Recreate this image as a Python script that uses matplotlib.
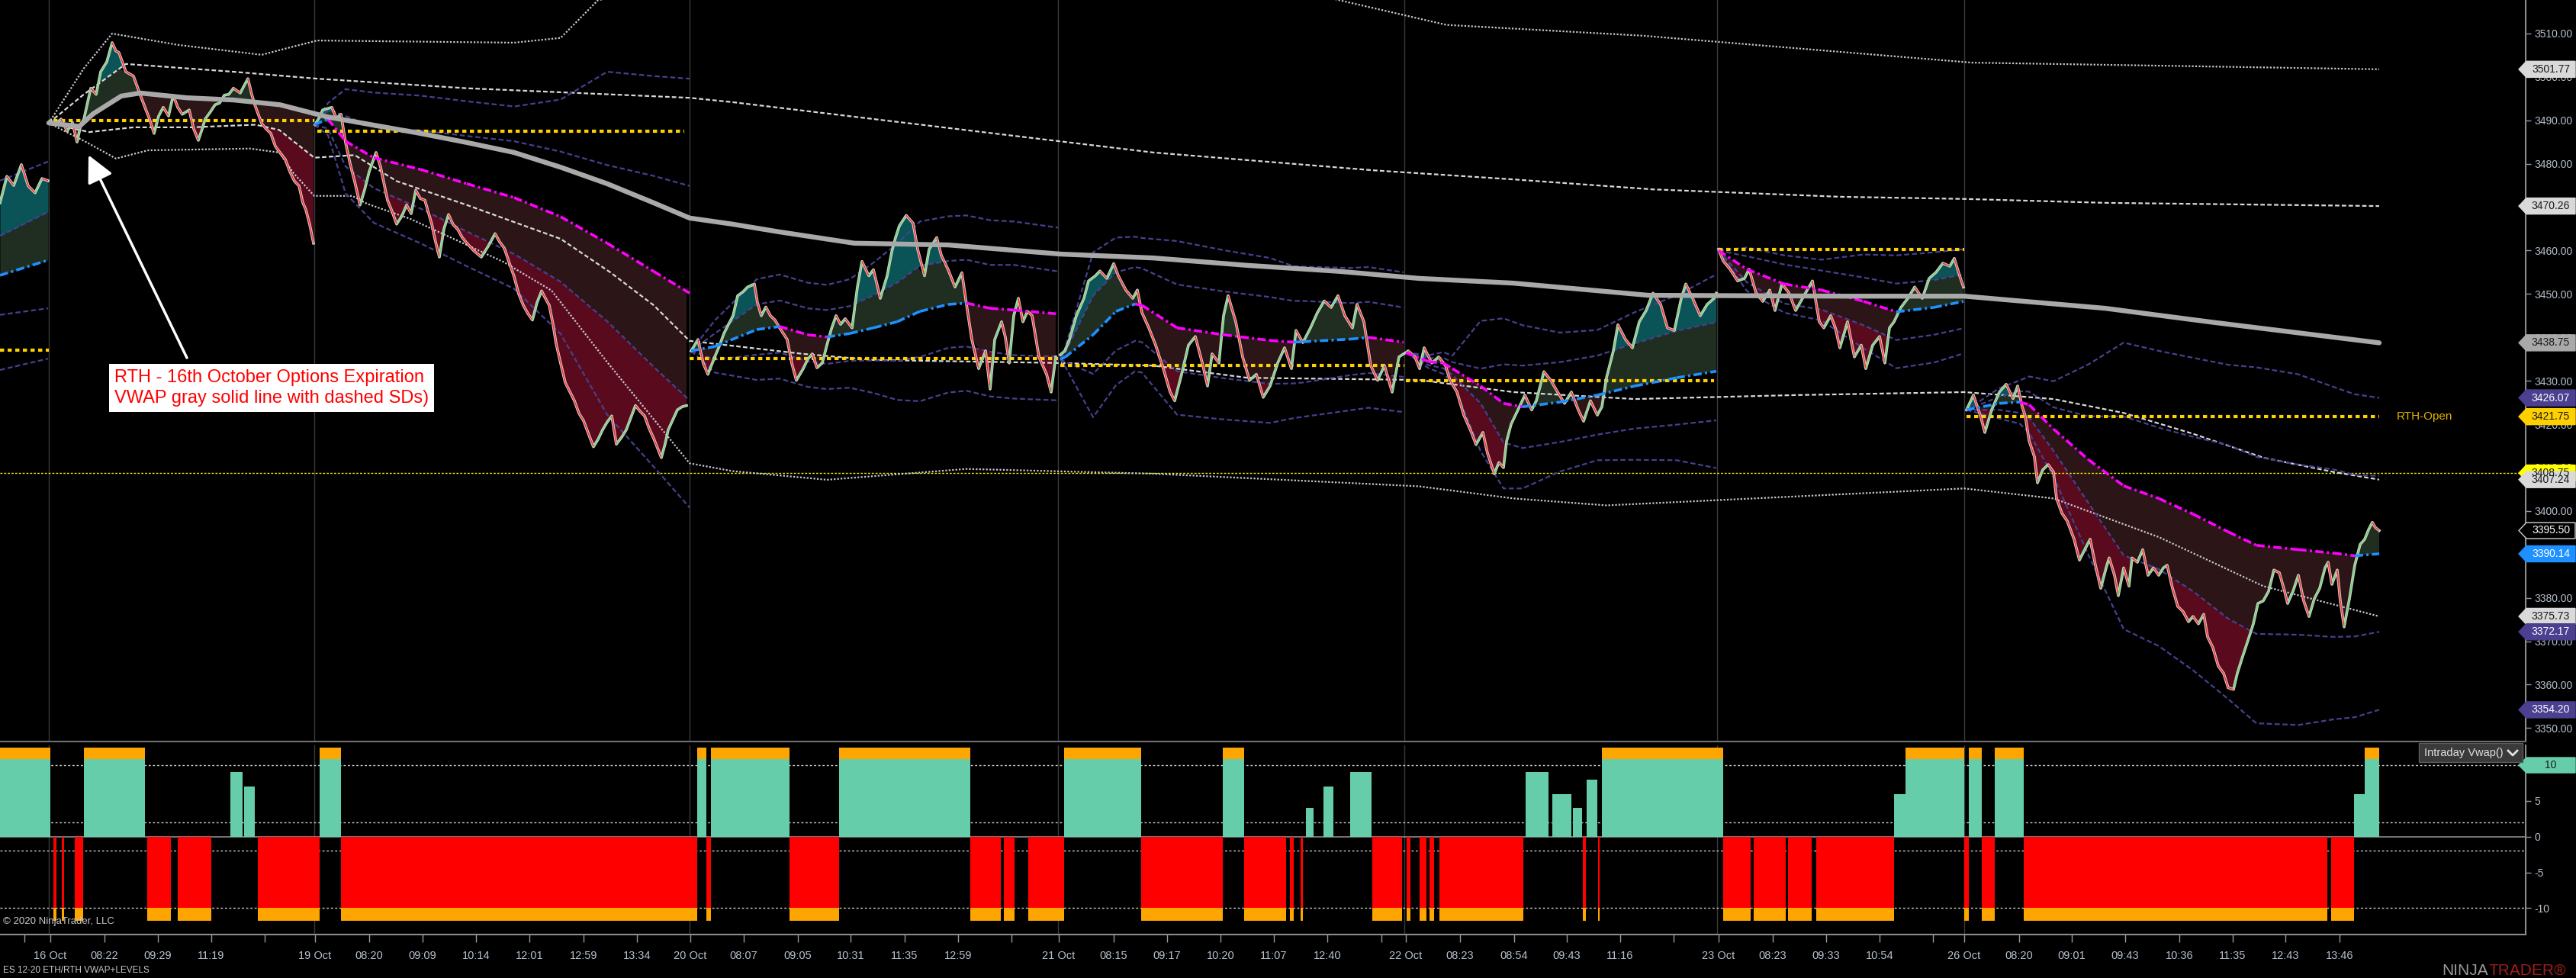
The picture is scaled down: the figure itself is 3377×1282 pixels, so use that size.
#!/usr/bin/env python3
"""ES 12-20 ETH/RTH VWAP + levels chart (NinjaTrader style), redrawn with matplotlib."""

import numpy as np
import matplotlib
matplotlib.use('Agg')
import matplotlib.pyplot as plt
import matplotlib.transforms as mtransforms
from matplotlib.patches import Polygon, Rectangle
from matplotlib.lines import Line2D
from matplotlib.collections import LineCollection

plt.rcParams['font.family'] = ['Liberation Sans Narrow', 'Liberation Sans', 'DejaVu Sans']

# ---------------------------------------------------------------- data
# x = bar position along the time axis, y = price
session_starts = [64, 412, 904, 1387, 1841, 2251, 2575]

xtick_pos = [32, 66, 137, 207, 277, 347, 413, 484, 554, 624, 694, 765, 835, 905, 975, 1046,
             1115, 1186, 1256, 1326, 1388, 1460, 1530, 1600, 1670, 1740, 1811, 1843, 1914,
             1985, 2054, 2124, 2194, 2253, 2324, 2394, 2464, 2534, 2575, 2647, 2716, 2786,
             2857, 2927, 2996, 3067]
xtick_lab = ['', '16 Oct', '08:22', '09:29', '11:19', '', '19 Oct', '08:20', '09:09', '10:14',
             '12:01', '12:59', '13:34', '20 Oct', '08:07', '09:05', '10:31', '11:35', '12:59', '',
             '21 Oct', '08:15', '09:17', '10:20', '11:07', '12:40', '', '22 Oct', '08:23', '08:54',
             '09:43', '11:16', '', '23 Oct', '08:23', '09:33', '10:54', '', '26 Oct', '08:20',
             '09:01', '09:43', '10:36', '11:35', '12:43', '13:46']

price_ticks = [3350, 3360, 3370, 3380, 3390, 3400, 3410, 3420, 3430, 3440, 3450, 3460, 3470,
               3480, 3490, 3500, 3510]

# 16 Oct RTH anchored VWAP (gray) and its SD lines
lvwap_x = [64, 104, 122, 159, 184, 245, 306, 367, 429, 490, 551, 612, 674, 735, 796, 857, 904,
           960, 1022, 1120, 1243, 1390, 1512, 1635, 1757, 1860, 1984, 2161, 2412, 2575, 2760,
           2900, 3119]
lvwap_y = [3489.4, 3488.6, 3491.5, 3495.6, 3496.3, 3495.2, 3494.7, 3493.6, 3490.8, 3488.9,
           3487.0, 3484.9, 3482.6, 3479.2, 3475.4, 3471.0, 3467.5, 3466.1, 3464.3, 3461.7,
           3461.3, 3459.2, 3458.3, 3456.6, 3455.2, 3453.6, 3452.5, 3449.7, 3449.5, 3449.5,
           3446.7, 3443.5, 3438.75]
lup1_x = [64, 110, 165, 306, 416, 612, 904, 960, 1512, 1800, 1984, 2167, 2412, 2575, 2760, 3119]
lup1_y = [3489.4, 3496.0, 3503.0, 3501.2, 3499.6, 3497.4, 3495.2, 3494.2, 3482.6, 3478.5,
          3476.4, 3474.1, 3472.4, 3471.9, 3471.0, 3470.26]
llo1_x = [64, 117, 175, 251, 335, 366, 412, 465, 520, 612, 735, 800, 857, 904, 1053, 1145,
          1390, 1512, 1635, 1860, 1984, 2143, 2351, 2575, 2692, 2784, 2875, 2967, 3059, 3119]
llo1_y = [3489.4, 3487.3, 3488.4, 3488.4, 3489.0, 3487.8, 3481.4, 3482.0, 3476.0, 3470.5,
          3462.7, 3455.0, 3447.4, 3439.2, 3436.2, 3434.8, 3434.1, 3433.5, 3430.7, 3430.2,
          3427.4, 3425.8, 3426.7, 3427.4, 3425.8, 3422.6, 3417.8, 3412.3, 3409.0, 3407.24]
lup2_x = [64, 110, 147, 233, 343, 380, 416, 674, 735, 784, 1000, 1600, 1896, 2154, 2585, 3119]
lup2_y = [3489.4, 3502.0, 3510.0, 3507.4, 3505.1, 3506.8, 3508.4, 3507.9, 3509.0, 3517.7,
          3524.0, 3524.0, 3512.0, 3509.5, 3503.3, 3501.77]
llo2_x = [64, 114, 152, 194, 328, 366, 385, 412, 462, 481, 538, 660, 723, 796, 904, 960, 1084,
          1267, 1512, 1860, 1984, 2106, 2251, 2575, 2692, 2830, 2967, 3119]
llo2_y = [3489.4, 3484.9, 3481.2, 3483.1, 3483.5, 3482.6, 3477.8, 3472.6, 3472.6, 3470.8,
          3467.3, 3457.4, 3450.8, 3434.3, 3411.0, 3409.2, 3407.2, 3409.7, 3408.6, 3405.7,
          3402.9, 3401.3, 3402.5, 3405.2, 3402.9, 3394.0, 3382.7, 3375.73]

level_line = 3408.75

# RTH open levels per session
open_x0 = [0, 70, 416, 904, 1390, 1843, 2253, 2578]
open_x1 = [64, 412, 897, 1387, 1841, 2247, 2575, 3119]
open_lvl = [3437.0, 3490.0, 3487.5, 3435.1, 3433.6, 3430.1, 3460.2, 3421.75]

# session 0 (previous session tail)
s0_x = [0, 9, 18, 28, 37, 46, 55, 63]
s0_p = [3471.0, 3477.1, 3475.0, 3479.8, 3474.9, 3473.3, 3476.6, 3476.1]
s0_bx = [0, 63]
s0_vwap = [3454.3, 3457.8]
s0_sd1 = [9.1, 11.1]
s0_sd2 = [21.8, 22.7]

# 16 Oct (session VWAP = gray anchored VWAP)
s1_x = [65, 72, 80, 88, 95, 101, 106, 110, 119, 126, 132, 140, 147, 152, 156, 165, 175, 184,
        190, 196, 202, 208, 214, 221, 227, 233, 239, 248, 254, 260, 265, 269, 276, 282, 288,
        294, 300, 306, 315, 320, 325, 330, 334, 343, 349, 355, 361, 367, 374, 380, 386, 392,
        397, 401, 406, 411]
s1_p = [3489.8, 3489.0, 3490.3, 3487.5, 3489.5, 3485.0, 3489.0, 3490.3, 3497.4, 3496.0,
        3501.2, 3503.5, 3507.9, 3506.0, 3505.6, 3501.2, 3500.2, 3495.8, 3493.0, 3490.3,
        3487.0, 3491.0, 3493.0, 3491.0, 3495.8, 3493.0, 3491.4, 3492.4, 3488.0, 3485.4,
        3488.0, 3490.3, 3492.0, 3493.6, 3494.0, 3495.8, 3496.0, 3497.4, 3496.3, 3498.0,
        3499.6, 3496.0, 3493.6, 3489.3, 3488.0, 3487.0, 3484.0, 3482.6, 3481.0, 3478.2,
        3476.0, 3474.9, 3471.0, 3469.4, 3466.0, 3461.7]

# 19 Oct
s2_x = [413, 418, 423, 435, 441, 447, 453, 459, 465, 472, 478, 484, 493, 499, 508, 514, 520,
        527, 533, 539, 545, 551, 557, 566, 571, 576, 582, 588, 594, 600, 606, 612, 621, 631,
        640, 649, 655, 661, 668, 674, 680, 686, 692, 698, 704, 710, 715, 720, 725, 729, 735,
        741, 747, 753, 759, 765, 771, 778, 784, 790, 796, 802, 808, 815, 821, 827, 833, 839,
        845, 851, 857, 862, 867, 872, 876, 882, 888, 894, 900]
s2_p = [3489.0, 3490.5, 3492.4, 3493.0, 3490.5, 3491.4, 3484.9, 3480.0, 3475.9, 3470.5,
        3474.0, 3478.2, 3482.6, 3479.2, 3471.6, 3469.0, 3466.1, 3468.0, 3470.5, 3468.5,
        3473.9, 3472.0, 3471.6, 3466.1, 3462.0, 3458.5, 3465.0, 3468.3, 3466.0, 3464.9,
        3463.0, 3461.7, 3460.0, 3458.5, 3461.0, 3463.9, 3462.0, 3460.6, 3457.0, 3454.0,
        3450.0, 3447.4, 3445.5, 3444.0, 3448.0, 3450.7, 3449.0, 3447.4, 3443.0, 3438.6,
        3434.0, 3429.6, 3427.5, 3425.4, 3422.5, 3420.8, 3418.0, 3414.8, 3416.5, 3418.7,
        3420.5, 3421.9, 3415.4, 3417.0, 3418.7, 3421.5, 3424.3, 3423.0, 3421.9, 3419.0,
        3416.7, 3414.5, 3412.3, 3415.5, 3418.7, 3421.0, 3423.3, 3424.0, 3424.3]
s2_bx = [412, 430, 453, 490, 551, 612, 674, 735, 796, 857, 904]
s2_vwap = [3489.0, 3490.3, 3485.2, 3481.4, 3478.7, 3475.4, 3472.2, 3467.8, 3461.7, 3455.2, 3450.2]
s2_sd1 = [0.0, 2.2, 5.8, 7.0, 9.0, 11.0, 13.0, 15.0, 18.0, 22.0, 24.7]
s2_sd2 = [0.0, 3.7, 12.0, 15.0, 17.0, 19.0, 21.0, 27.0, 39.5, 45.0, 49.4]

# 20 Oct
s3_x = [906, 915, 922, 928, 937, 943, 949, 955, 961, 967, 974, 980, 989, 993, 998, 1004, 1010,
        1016, 1022, 1032, 1038, 1044, 1053, 1059, 1065, 1071, 1078, 1084, 1090, 1096, 1102,
        1108, 1117, 1124, 1130, 1139, 1145, 1150, 1154, 1163, 1169, 1174, 1179, 1188, 1197,
        1203, 1212, 1218, 1228, 1234, 1243, 1252, 1261, 1267, 1274, 1283, 1292, 1298, 1304,
        1313, 1318, 1323, 1329, 1335, 1341, 1347, 1353, 1362, 1372, 1378, 1384]
s3_p = [3436.9, 3439.5, 3434.0, 3431.5, 3435.5, 3438.0, 3440.9, 3443.0, 3445.0, 3449.6,
        3450.5, 3451.6, 3452.3, 3448.0, 3445.0, 3447.0, 3445.0, 3444.0, 3442.2, 3439.5,
        3434.0, 3430.1, 3432.8, 3435.0, 3436.2, 3433.0, 3434.1, 3438.2, 3442.0, 3445.0,
        3443.0, 3444.3, 3442.2, 3451.6, 3457.5, 3454.2, 3455.6, 3452.0, 3449.0, 3454.2,
        3459.7, 3463.0, 3465.7, 3468.1, 3466.3, 3460.3, 3454.2, 3460.3, 3463.0, 3458.9,
        3455.6, 3451.6, 3454.9, 3447.6, 3439.5, 3432.8, 3436.9, 3428.1, 3439.5, 3443.6,
        3440.0, 3434.1, 3445.0, 3449.0, 3443.6, 3446.0, 3445.0, 3435.5, 3431.5, 3427.4, 3435.5]
s3_bx = [906, 937, 992, 1022, 1059, 1084, 1114, 1145, 1176, 1206, 1243, 1267, 1298, 1329, 1387]
s3_vwap = [3436.9, 3437.9, 3441.8, 3442.5, 3440.6, 3440.1, 3440.9, 3442.2, 3443.6, 3446.0,
           3447.6, 3447.9, 3446.7, 3446.3, 3445.4]
s3_sd1 = [0.0, 3.0, 5.8, 6.0, 6.1, 6.2, 6.3, 7.5, 9.0, 10.5, 10.0, 10.0, 10.0, 10.4, 9.8]
s3_sd2 = [0.0, 6.0, 11.6, 12.0, 12.0, 12.0, 12.5, 15.0, 18.0, 20.7, 20.3, 20.2, 20.3, 20.4, 19.9]

# 21 Oct
s4_x = [1390, 1396, 1402, 1411, 1421, 1427, 1436, 1442, 1451, 1460, 1466, 1476, 1485, 1491,
        1497, 1506, 1515, 1525, 1534, 1540, 1549, 1558, 1567, 1577, 1583, 1589, 1598, 1604,
        1610, 1620, 1629, 1638, 1647, 1656, 1665, 1675, 1684, 1693, 1699, 1708, 1718, 1727,
        1736, 1745, 1754, 1763, 1773, 1779, 1788, 1797, 1806, 1815, 1825, 1834, 1840]
s4_p = [3436.0, 3436.9, 3439.5, 3445.0, 3449.0, 3453.0, 3454.2, 3455.3, 3453.6, 3457.0,
        3454.2, 3450.9, 3449.0, 3450.9, 3445.7, 3442.2, 3438.2, 3432.8, 3427.4, 3425.4,
        3431.5, 3438.2, 3440.2, 3433.5, 3428.8, 3436.2, 3434.1, 3445.0, 3449.6, 3443.6,
        3435.5, 3430.1, 3431.5, 3426.2, 3428.8, 3434.1, 3437.6, 3432.8, 3441.6, 3438.8,
        3442.2, 3445.7, 3448.4, 3446.9, 3449.6, 3445.0, 3442.2, 3447.6, 3443.6, 3433.5,
        3430.1, 3433.5, 3427.4, 3435.5, 3436.2]
s4_bx = [1390, 1396, 1433, 1463, 1488, 1497, 1543, 1604, 1665, 1696, 1708, 1770, 1794, 1840]
s4_vwap = [3435.0, 3435.4, 3440.6, 3446.0, 3447.7, 3447.4, 3442.2, 3440.6, 3439.3, 3438.9,
           3439.0, 3439.6, 3440.0, 3438.9]
s4_sd1 = [0.0, 1.0, 9.0, 9.0, 8.5, 8.5, 10.0, 10.0, 10.0, 9.5, 9.4, 8.3, 8.2, 8.0]
s4_sd2 = [0.0, 2.0, 19.0, 17.0, 15.5, 15.5, 20.0, 19.5, 19.0, 17.5, 17.3, 16.4, 16.2, 16.1]

# 22 Oct
s5_x = [1843, 1846, 1855, 1861, 1867, 1877, 1886, 1895, 1901, 1910, 1919, 1929, 1935, 1944,
        1950, 1959, 1965, 1971, 1975, 1981, 1990, 1999, 2008, 2014, 2024, 2033, 2042, 2051,
        2060, 2069, 2076, 2085, 2094, 2100, 2106, 2115, 2121, 2131, 2140, 2149, 2158, 2167,
        2177, 2186, 2195, 2204, 2210, 2219, 2229, 2238, 2247, 2250]
s5_p = [3436.5, 3436.9, 3435.5, 3432.8, 3437.6, 3434.1, 3435.5, 3433.5, 3430.1, 3427.4,
        3422.1, 3418.1, 3415.3, 3418.1, 3413.3, 3408.6, 3411.2, 3410.0, 3416.0, 3420.0,
        3423.3, 3426.7, 3423.3, 3425.4, 3432.1, 3430.1, 3427.4, 3424.8, 3427.4, 3423.3,
        3420.7, 3425.4, 3422.1, 3424.0, 3430.7, 3436.9, 3442.9, 3439.5, 3437.6, 3443.6,
        3446.2, 3450.2, 3447.6, 3442.2, 3441.6, 3449.0, 3452.3, 3449.0, 3445.0, 3447.6,
        3449.0, 3450.2]
s5_bx = [1843, 1873, 1892, 1904, 1941, 1971, 1996, 2045, 2094, 2143, 2198, 2250]
s5_vwap = [3436.5, 3434.4, 3434.1, 3432.8, 3428.8, 3424.8, 3424.0, 3425.1, 3426.7, 3428.8,
           3430.7, 3432.2]
s5_sd1 = [0.0, 0.8, 1.2, 1.5, 4.0, 9.0, 9.5, 9.2, 9.1, 9.8, 10.8, 11.3]
s5_sd2 = [0.0, 1.5, 2.5, 3.0, 15.0, 19.6, 18.8, 16.0, 15.0, 17.0, 19.0, 22.3]

# 23 Oct
s6_x = [2253, 2259, 2268, 2278, 2287, 2293, 2302, 2311, 2320, 2327, 2336, 2345, 2354, 2363,
        2376, 2385, 2391, 2400, 2406, 2412, 2422, 2431, 2440, 2446, 2455, 2464, 2471, 2477,
        2483, 2492, 2501, 2510, 2520, 2529, 2538, 2547, 2556, 2562, 2569, 2574]
s6_p = [3460.3, 3457.6, 3455.7, 3453.0, 3453.6, 3455.7, 3450.3, 3448.3, 3450.9, 3446.2,
        3452.3, 3450.3, 3446.2, 3449.0, 3453.0, 3443.6, 3442.2, 3445.0, 3442.2, 3437.6,
        3443.6, 3435.5, 3438.2, 3432.8, 3438.2, 3440.2, 3434.1, 3442.2, 3443.6, 3446.9,
        3449.0, 3451.6, 3449.0, 3453.6, 3455.0, 3457.1, 3456.4, 3458.2, 3454.2, 3451.6]
s6_bx = [2253, 2290, 2339, 2388, 2443, 2486, 2535, 2574]
s6_vwap = [3460.0, 3455.7, 3452.3, 3450.9, 3448.3, 3445.9, 3446.9, 3448.3]
s6_sd1 = [0.0, 3.0, 4.5, 4.5, 5.5, 6.5, 6.3, 6.2]
s6_sd2 = [0.0, 5.0, 6.6, 7.0, 10.8, 13.0, 12.7, 12.0]

# 26 Oct
s7_x = [2578, 2587, 2596, 2602, 2611, 2621, 2630, 2639, 2645, 2651, 2655, 2660, 2667, 2671,
        2678, 2685, 2692, 2696, 2703, 2710, 2719, 2726, 2733, 2740, 2747, 2754, 2761, 2765,
        2772, 2777, 2784, 2791, 2795, 2802, 2809, 2816, 2823, 2830, 2836, 2841, 2848, 2855,
        2862, 2869, 2875, 2882, 2889, 2894, 2901, 2908, 2915, 2921, 2928, 2933, 2940, 2947,
        2954, 2960, 2967, 2974, 2981, 2988, 2995, 2999, 3006, 3013, 3020, 3027, 3034, 3041,
        3048, 3052, 3057, 3064, 3068, 3073, 3080, 3087, 3094, 3100, 3105, 3110, 3114, 3119]
s7_p = [3423.3, 3426.7, 3422.1, 3418.1, 3423.3, 3427.4, 3429.2, 3425.9, 3428.8, 3424.0,
        3421.9, 3416.2, 3412.5, 3406.5, 3409.5, 3410.7, 3409.0, 3402.9, 3399.5, 3397.7,
        3393.5, 3388.7, 3391.1, 3393.5, 3387.5, 3382.2, 3386.9, 3389.2, 3385.2, 3380.5,
        3386.9, 3382.7, 3389.2, 3388.2, 3391.1, 3385.2, 3386.9, 3385.2, 3386.9, 3387.5,
        3382.2, 3378.0, 3376.8, 3374.5, 3375.7, 3374.0, 3376.2, 3371.0, 3368.5, 3364.3,
        3362.6, 3359.3, 3358.9, 3362.6, 3366.5, 3370.2, 3374.0, 3378.7, 3379.3, 3381.5,
        3386.4, 3385.8, 3381.5, 3378.7, 3381.5, 3385.2, 3379.3, 3375.7, 3379.8, 3382.2,
        3386.9, 3388.2, 3383.1, 3386.4, 3379.3, 3373.3, 3379.8, 3387.5, 3392.3, 3393.5,
        3395.7, 3397.4, 3396.2, 3395.5]
s7_bx = [2578, 2621, 2648, 2660, 2692, 2738, 2784, 2830, 2875, 2921, 2958, 3013, 3059, 3087, 3119]
s7_vwap = [3423.3, 3424.8, 3425.1, 3424.5, 3418.9, 3411.8, 3405.8, 3402.9, 3399.3, 3395.2,
           3392.1, 3391.1, 3390.3, 3389.7, 3390.14]
s7_sd1 = [0.0, 1.5, 2.5, 3.0, 5.0, 10.0, 16.0, 16.3, 17.8, 20.0, 20.4, 19.6, 19.3, 18.6, 17.97]
s7_sd2 = [0.0, 3.5, 5.0, 6.5, 11.0, 22.0, 33.0, 34.0, 36.0, 38.5, 41.0, 40.4, 38.3, 37.2, 35.93]

# price-axis value flags
flag_vals = [3501.77, 3470.26, 3438.75, 3426.07, 3421.75, 3408.75, 3407.24, 3395.50, 3390.14,
             3375.73, 3372.17, 3354.20]
flag_face = ['#d9d9d9', '#d9d9d9', '#a9a9a9', '#4b3f8f', '#ffd000', '#ffff00', '#d9d9d9',
             '#000000', '#1e90ff', '#d9d9d9', '#4b3f8f', '#4b3f8f']
flag_text = ['#1a1a1a', '#1a1a1a', '#1a1a1a', '#ffffff', '#1a1a1a', '#1a1a1a', '#1a1a1a',
             '#ffffff', '#ffffff', '#1a1a1a', '#ffffff', '#ffffff']

# Intraday Vwap() oscillator: saturated blocks and partial bars
osc_sat_up, osc_cap_up = 10.9, 12.5
osc_sat_dn, osc_cap_dn = -10.0, -11.8
osc_up_full = [(0, 66), (110, 190), (419, 447), (914, 926), (932, 1035), (1100, 1272),
               (1395, 1496), (1603, 1631), (2100, 2259), (2498, 2575), (2581, 2598),
               (2615, 2653), (3100, 3119)]
osc_up_part = [(302, 318, 9), (320, 334, 7), (1712, 1722, 4), (1735, 1748, 7), (1770, 1798, 9),
               (2000, 2030, 9), (2035, 2060, 6), (2062, 2074, 4), (2080, 2094, 8),
               (2483, 2498, 6), (3086, 3100, 6)]
osc_dn_full = [(70, 74), (81, 84), (98, 109), (193, 224), (233, 277), (338, 419), (447, 914),
               (926, 932), (1035, 1100), (1272, 1312), (1316, 1330), (1348, 1395),
               (1496, 1603), (1631, 1686), (1691, 1696), (1705, 1708), (1799, 1838),
               (1844, 1849), (1861, 1870), (1874, 1880), (1887, 1997), (2075, 2079),
               (2095, 2097), (2259, 2295), (2299, 2341), (2344, 2375), (2381, 2483),
               (2575, 2581), (2598, 2615), (2653, 3051), (3056, 3086)]
osc_ticks = [10, 5, 0, -5, -10]
osc_guides = [10, 2, -2, -10]

# ---------------------------------------------------------------- style
C_TEAL = '#0a5458'
C_GREEN = '#1f2e21'
C_BROWN = '#2b1516'
C_MAROON = '#590b1d'
C_NAVY = '#45418f'
C_BLUE = '#1e90ff'
C_MAGENTA = '#ff00ff'
C_GOLD = '#ffd000'
C_AXTXT = '#b6c0cd'

W, H = 3377, 1282
AX_R = 3311
fig = plt.figure(figsize=(W / 100, H / 100), dpi=100, facecolor='black')
ax = fig.add_axes([0, 1 - 972 / H, AX_R / W, 972 / H], facecolor='black')
ax2 = fig.add_axes([0, 1 - 1225 / H, AX_R / W, (1225 - 977) / H], facecolor='black')


def draw_price(xs, ps):
    xs = np.asarray(xs, float)
    ps = np.asarray(ps, float)
    ax.plot(xs, ps, color='#cfcfcf', lw=2.6, zorder=5)
    segs = np.stack([np.column_stack([xs[:-1], ps[:-1]]),
                     np.column_stack([xs[1:], ps[1:]])], axis=1)
    cols = np.where(ps[1:] >= ps[:-1], '#72d672', '#ff2e2e')
    ax.add_collection(LineCollection(segs, colors=cols, linewidths=1.1, zorder=5.1))


def draw_fill(xs, ps, vw, up, lo):
    xs = np.asarray(xs, float)
    ps = np.asarray(ps, float)
    ax.fill_between(xs, vw, np.minimum(ps, up), where=ps >= vw, interpolate=True,
                    color=C_GREEN, lw=0, zorder=1)
    ax.fill_between(xs, up, ps, where=ps >= up, interpolate=True, color=C_TEAL, lw=0, zorder=1)
    ax.fill_between(xs, np.maximum(ps, lo), vw, where=ps <= vw, interpolate=True,
                    color=C_BROWN, lw=0, zorder=1)
    ax.fill_between(xs, ps, lo, where=ps <= lo, interpolate=True, color=C_MAROON, lw=0, zorder=1)


def draw_session(xs, ps, bx, vwap, sd1, sd2):
    bx = np.asarray(bx, float)
    vwap = np.asarray(vwap, float)
    sd1 = np.asarray(sd1, float)
    sd2 = np.asarray(sd2, float)
    vw = np.interp(xs, bx, vwap)
    s = np.interp(xs, bx, sd1)
    draw_fill(xs, ps, vw, vw + s, vw - s)
    for band in (vwap + sd1, vwap - sd1, vwap + sd2, vwap - sd2):
        ax.plot(bx, band, color=C_NAVY, lw=1.6, ls=(0, (3, 1.6)), zorder=2.5)
    for i in range(len(bx) - 1):
        c = C_BLUE if vwap[i + 1] >= vwap[i] else C_MAGENTA
        ax.plot(bx[i:i + 2], vwap[i:i + 2], color=c, lw=2.6, ls=(0, (3, 1.2, 0.8, 1.2)),
                zorder=5.5)
    draw_price(xs, ps)


# ---------------------------------------------------------------- main panel
for x in session_starts:
    ax.axvline(x, color='#3a3a3a', lw=1, zorder=0.5)
    ax2.axvline(x, color='#3a3a3a', lw=1, zorder=0.5)

ax.axhline(level_line, color='#f0f000', lw=1.0, ls=(0, (2, 1.5)), zorder=2)

# anchored VWAP bands
ax.plot(lup2_x, lup2_y, color='#c8c8d2', lw=1.6, ls=(0, (1, 1)), zorder=2)
ax.plot(llo2_x, llo2_y, color='#c8c8d2', lw=1.6, ls=(0, (1, 1)), zorder=2)
ax.plot(lup1_x, lup1_y, color='#d8d8d8', lw=1.6, ls=(0, (2.6, 1.4)), zorder=2)
ax.plot(llo1_x, llo1_y, color='#d8d8d8', lw=1.6, ls=(0, (2.6, 1.4)), zorder=2)

# 16 Oct fill against the anchored VWAP
s1_vw = np.interp(s1_x, lvwap_x, lvwap_y)
draw_fill(s1_x, s1_p, s1_vw, np.interp(s1_x, lup1_x, lup1_y), np.interp(s1_x, llo1_x, llo1_y))
draw_price(s1_x, s1_p)

draw_session(s0_x, s0_p, s0_bx, s0_vwap, s0_sd1, s0_sd2)
draw_session(s2_x, s2_p, s2_bx, s2_vwap, s2_sd1, s2_sd2)
draw_session(s3_x, s3_p, s3_bx, s3_vwap, s3_sd1, s3_sd2)
draw_session(s4_x, s4_p, s4_bx, s4_vwap, s4_sd1, s4_sd2)
draw_session(s5_x, s5_p, s5_bx, s5_vwap, s5_sd1, s5_sd2)
draw_session(s6_x, s6_p, s6_bx, s6_vwap, s6_sd1, s6_sd2)
draw_session(s7_x, s7_p, s7_bx, s7_vwap, s7_sd1, s7_sd2)

ax.plot(lvwap_x, lvwap_y, color='#a9a9a9', lw=4.6, solid_capstyle='round', zorder=6)

for x0, x1, lvl in zip(open_x0, open_x1, open_lvl):
    ax.plot([x0, x1], [lvl, lvl], color=C_GOLD, lw=3.0, ls=(0, (1.3, 1.1)),
            solid_capstyle='butt', dash_capstyle='butt', zorder=4)
ax.text(3142, open_lvl[-1], 'RTH-Open', color='#e2b400', fontsize=11, va='center', ha='left')

ax.text(150, 3428.4, 'RTH - 16th October Options Expiration\nVWAP gray solid line with dashed SDs)',
        family=['Liberation Sans', 'DejaVu Sans'], fontsize=17, color='#ff0000',
        va='center', ha='left', linespacing=1.3, zorder=8,
        bbox=dict(boxstyle='square,pad=0.3', fc='white', ec='none'))
ax.annotate('', xy=(116, 3482.0), xytext=(245, 3435.3), zorder=8,
            arrowprops=dict(arrowstyle='-|>,head_length=0.6,head_width=0.3', color='white',
                            lw=2.5, mutation_scale=36, shrinkA=0, shrinkB=0))

ax.set_xlim(0, AX_R)
ax.set_ylim(3346.9, 3517.73)
ax.set_xticks([])
ax.yaxis.tick_right()
ax.set_yticks(price_ticks)
ax.set_yticklabels([f'{v:.2f}' for v in price_ticks])
ax.tick_params(axis='y', colors='#8e96a2', labelcolor=C_AXTXT, length=5, width=1,
               pad=3, labelsize=10)
for side in ('top', 'left'):
    ax.spines[side].set_visible(False)
ax.spines['right'].set_color('#8c8c8c')
ax.spines['right'].set_linewidth(1.5)
ax.spines['bottom'].set_color('#707070')
ax.spines['bottom'].set_linewidth(1.5)

# ---------------------------------------------------------------- oscillator panel
for v in osc_guides:
    ax2.axhline(v, color='#cfcfcf', lw=1.0, ls=(0, (2, 2)), zorder=0.8)
ax2.axhline(0, color='#8a8a8a', lw=1.2, zorder=0.8)
for a, b in osc_up_full:
    ax2.bar(a, osc_sat_up, width=b - a, align='edge', color='#66cdaa', lw=0, zorder=2)
    ax2.bar(a, osc_cap_up - osc_sat_up, bottom=osc_sat_up, width=b - a, align='edge',
            color='#ffa500', lw=0, zorder=2)
for a, b, v in osc_up_part:
    ax2.bar(a, v, width=b - a, align='edge', color='#66cdaa', lw=0, zorder=2)
for a, b in osc_dn_full:
    ax2.bar(a, osc_sat_dn, width=b - a, align='edge', color='#ff0000', lw=0, zorder=2)
    ax2.bar(a, osc_cap_dn - osc_sat_dn, bottom=osc_sat_dn, width=b - a, align='edge',
            color='#ffa500', lw=0, zorder=2)

ax2.set_xlim(0, AX_R)
ax2.set_ylim(-13.69, 12.78)
ax2.yaxis.tick_right()
ax2.set_yticks(osc_ticks)
ax2.set_yticklabels(['' if v == 10 else str(v) for v in osc_ticks])
ax2.tick_params(axis='y', colors='#8e96a2', labelcolor=C_AXTXT, length=5, width=1,
                pad=3, labelsize=10)
ax2.set_xticks(xtick_pos)
ax2.set_xticklabels(xtick_lab)
ax2.tick_params(axis='x', colors='#9a9a9a', labelcolor=C_AXTXT, length=7, width=1,
                pad=8, labelsize=10.5)
for side in ('top', 'left'):
    ax2.spines[side].set_visible(False)
for side in ('right', 'bottom'):
    ax2.spines[side].set_color('#8c8c8c')
    ax2.spines[side].set_linewidth(1.5)

# ---------------------------------------------------------------- value flags
def add_flag(trans, val, half_h, face, txt_color, label, edge=None):
    x_tip, x_body, x_end = 3302 / W, 3312 / W, 3376 / W
    pts = [(x_tip, val), (x_body, val + half_h), (x_end, val + half_h),
           (x_end, val - half_h), (x_body, val - half_h)]
    poly = Polygon(pts, closed=True, transform=trans, facecolor=face,
                   edgecolor=edge if edge else face, lw=1.0, zorder=10)
    fig.add_artist(poly)
    fig.text(3344 / W, val, label, transform=trans, color=txt_color, fontsize=10,
             ha='center', va='center', zorder=11)


trans_main = mtransforms.blended_transform_factory(fig.transFigure, ax.transData)
for v, fc, tc in zip(flag_vals, flag_face, flag_text):
    add_flag(trans_main, v, 1.85, fc, tc, f'{v:.2f}', edge='#d0d0d0' if fc == '#000000' else None)

trans_osc = mtransforms.blended_transform_factory(fig.transFigure, ax2.transData)
add_flag(trans_osc, 10, 1.07, '#66cdaa', '#1a1a1a', '10')

# indicator name box
fig.add_artist(Rectangle((3171 / W, 1 - 999 / H), (3307 - 3171) / W, 25 / H,
                         transform=fig.transFigure, facecolor='#3a3a3a',
                         edgecolor='#5c5c5c', lw=1, zorder=10))
fig.text(3178 / W, 1 - 987 / H, 'Intraday Vwap()', color='#e0e0e0', fontsize=10.5,
         ha='left', va='center', zorder=11)
fig.add_artist(Line2D([3288 / W, 3294 / W, 3300 / W], [1 - 984 / H, 1 - 990 / H, 1 - 984 / H],
                      transform=fig.transFigure, color='#e0e0e0', lw=2, zorder=11))

# footer texts
fig.text(4 / W, 1 - 1208 / H, '\u00a9 2020 NinjaTrader, LLC', color='#c8c8c8', fontsize=9.5,
         ha='left', va='center')
fig.text(4 / W, 1 - 1272 / H, 'ES 12-20 ETH/RTH VWAP+LEVELS', color='#c8c8c8', fontsize=8.5,
         ha='left', va='center')
fig.text(3262 / W, 1 - 1272 / H, 'NINJA', color='#9a9a9a', fontsize=15, ha='right', va='center')
fig.text(3262 / W, 1 - 1272 / H, 'TRADER\u00ae', color='#9e1f1f', fontsize=15, ha='left',
         va='center')

fig.savefig('out.png', dpi=100, facecolor='black')
